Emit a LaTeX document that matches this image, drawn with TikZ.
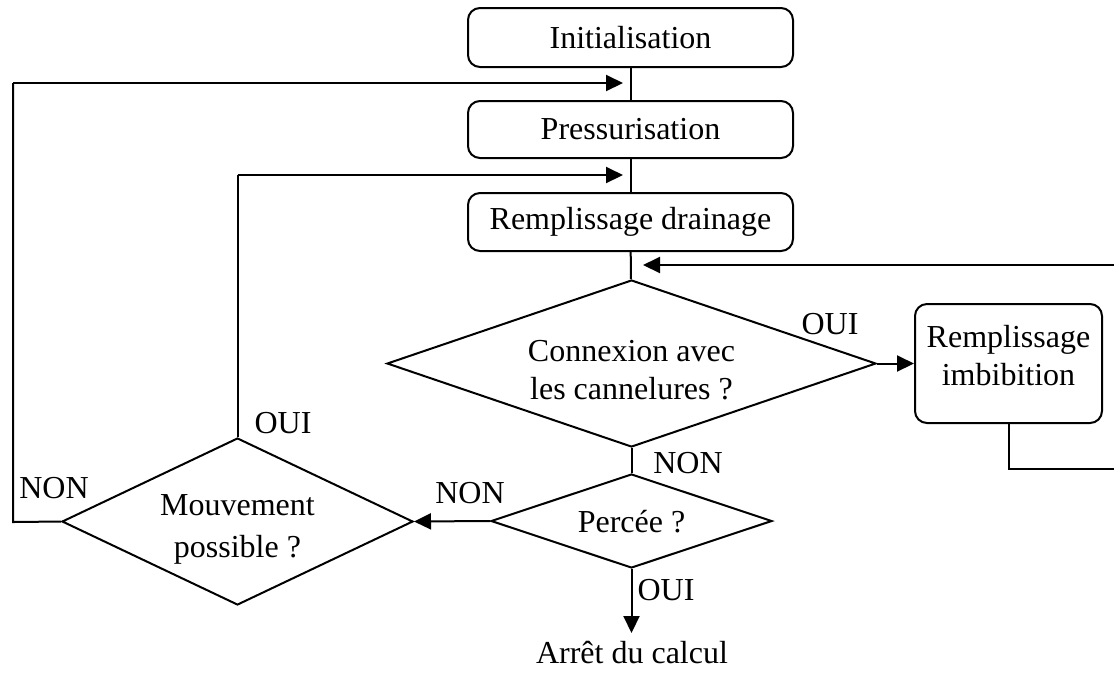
\documentclass[tikz,border=0pt]{standalone}
\usepackage{fontspec}
\setmainfont{Liberation Serif}
\usetikzlibrary{shapes.geometric,arrows.meta}
\begin{document}
\begin{tikzpicture}[x=0.5pt,y=-0.5pt,
  every node/.style={font=\fontsize{16}{19}\selectfont},
  line/.style={line width=1pt},
  arr/.style={line width=1pt,-{Triangle[length=8.5pt,width=8pt]}},
  stepbox/.style={draw,line width=1pt,rounded corners=6pt,inner sep=0pt,align=center},
  decision/.style={draw,line width=1pt,diamond,inner sep=0pt,align=center},
  lbl/.style={inner sep=0pt,align=center}]
\useasboundingbox (0,0) rectangle (1114,677);
\node[stepbox,minimum width=162.5pt,minimum height=29.5pt] (init) at (630.5,37.5) {Initialisation};
\node[stepbox,minimum width=162.5pt,minimum height=28.5pt] (pres) at (630.5,129.5) {Pressurisation};
\node[stepbox,minimum width=162.5pt,minimum height=29pt] (drain) at (630.5,222) {Remplissage drainage};
\node[decision,minimum width=244.5pt,minimum height=83.5pt,aspect=2.93] (conn) at (631.5,363.5) {};
\node[lbl] (connt) at (631.5,370) {Connexion avec\\les cannelures ?};
\node[stepbox,minimum width=93.5pt,minimum height=59.5pt,anchor=north] (imb) at (1008.5,303) {};
\node[lbl] (imbt) at (1008.5,356) {Remplissage\\imbibition};
\node[decision,minimum width=140.5pt,minimum height=47pt,aspect=2.99] (perc) at (631.5,521) {};
\node[lbl] (perct) at (631.5,522) {Percée ?};
\node[decision,minimum width=175.5pt,minimum height=83.5pt,aspect=2.1] (mouv) at (237.5,521.5) {};
\node[lbl,font=\fontsize{16}{21}\selectfont] (mouvt) at (237.5,529) {Mouvement\\possible ?};
\node[lbl] (stop) at (632,653) {Arrêt du calcul};
\coordinate (j1) at (623,83);
\coordinate (j2) at (623,175);
\coordinate (j3) at (643,265);
\coordinate (r1) at (1120,469);
\coordinate (r2) at (1120,265);
\coordinate (l1) at (13,522);
\coordinate (l2) at (13,83);
\coordinate (m1) at (237.5,175);
\coordinate (send) at (631.5,633);
\draw[line] (init) -- (pres);
\draw[line] (pres) -- (drain);
\draw[line] (drain) -- (conn);
\draw[line] (conn) -- (perc);
\draw[arr] (conn.east) -- (imb.west);
\draw[line] (imb.south) |- (r1) -- (r2);
\draw[arr] (r2) -- (j3);
\draw[arr] (perc.west) -- (mouv.east);
\draw[arr] (perc.south) -- (send);
\draw[line] (mouv.west) -- (l1) -- (l2);
\draw[arr] (l2) -- (j1);
\draw[line] (mouv.north) -- (m1);
\draw[arr] (m1) -- (j2);
\node[lbl] (l_oui1) at (830,324) {OUI};
\node[lbl] (l_non1) at (688,463) {NON};
\node[lbl] (l_non2) at (470,493) {NON};
\node[lbl] (l_oui2) at (666,590) {OUI};
\node[lbl] (l_oui3) at (283,423) {OUI};
\node[lbl] (l_non3) at (54,488) {NON};
\end{tikzpicture}
\end{document}
